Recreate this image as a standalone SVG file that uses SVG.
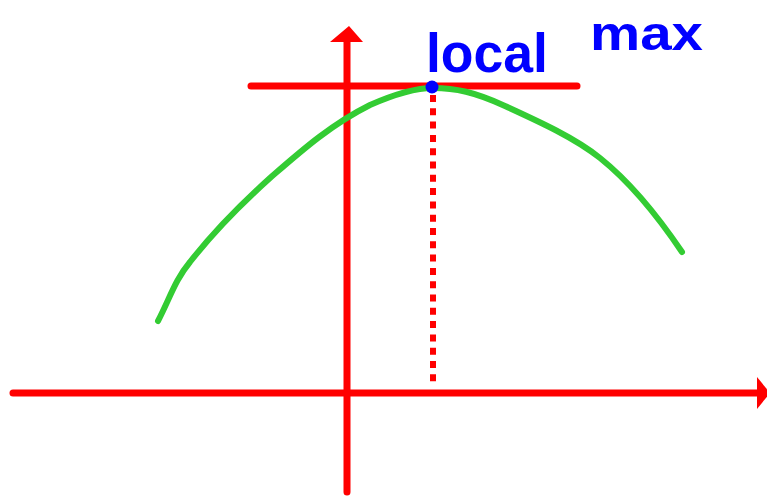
<svg xmlns="http://www.w3.org/2000/svg" width="767" height="498" viewBox="0 0 767 498">
<style>
.ax{stroke:#ff0000;stroke-width:7;stroke-linecap:round;fill:none}
.ah{fill:#ff0000}
.lbl{fill:#0000ff;font-family:"Liberation Sans",Arial,sans-serif;font-weight:bold}
</style>
<rect width="767" height="498" fill="#ffffff"/>
<g id="connectors">
<line class="ax" x1="13" y1="393" x2="758" y2="393"/>
<polygon class="ah" points="757,377 770,393 757,409"/>
<line class="ax" x1="347" y1="492" x2="347" y2="42"/>
<polygon class="ah" points="330,42 349,26 363,42"/>
<line class="ax" x1="251" y1="86" x2="577" y2="86"/>
<line x1="433" y1="95" x2="433" y2="382" stroke="#ff0000" stroke-width="6" stroke-dasharray="7,6.3"/>
</g>
<g id="curve">
<path d="M158,321 C170,298 175,280 190,262 C215,230 240,205 270,178 C300,152 330,125 370,105 C395,94 415,88 433,88 C455,88 475,92 505,106 C540,122 575,138 600,158 C630,182 655,212 682,252" fill="none" stroke="#33cc33" stroke-width="6" stroke-linecap="round" stroke-linejoin="round"/>
</g>
<g id="point">
<circle cx="432" cy="87" r="6.5" fill="#0000ff"/>
</g>
<g id="label">
<text class="lbl" x="426" y="72" font-size="56" textLength="122" lengthAdjust="spacingAndGlyphs">local</text>
<text class="lbl" x="590" y="50" font-size="48" textLength="113" lengthAdjust="spacingAndGlyphs">max</text>
</g>
</svg>
